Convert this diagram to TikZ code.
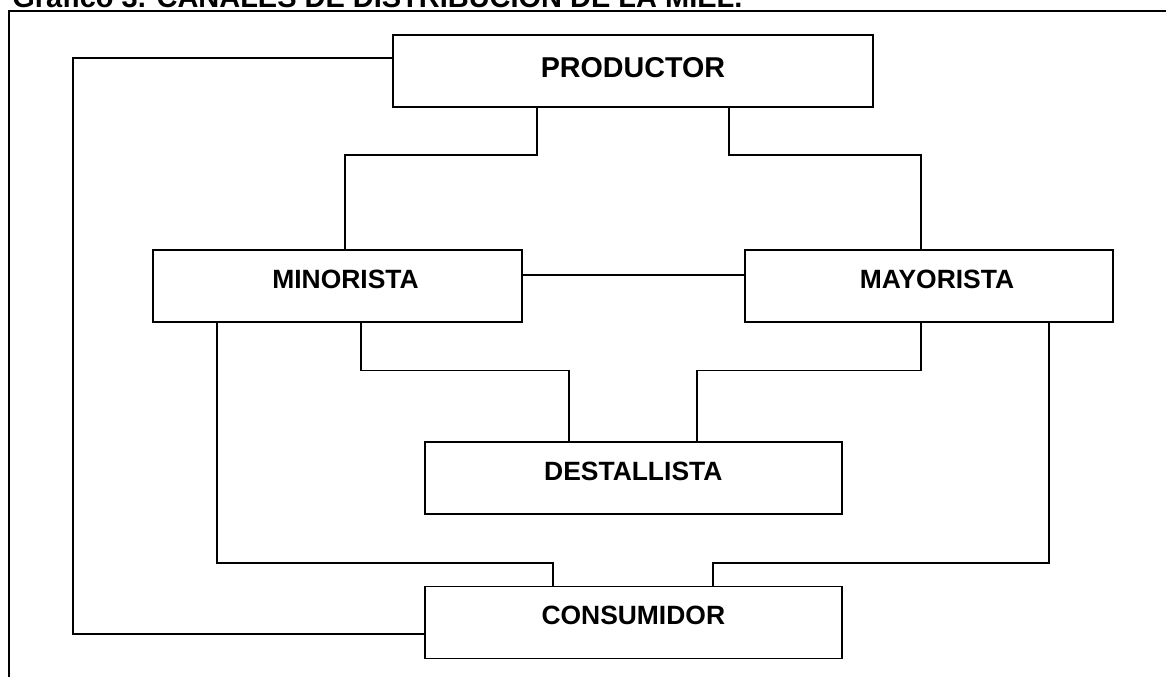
\documentclass[tikz,border=0pt]{standalone}
\usepackage{fontspec}
\setmainfont{Liberation Sans}
\tikzset{cbox/.style={draw, line width=1.3pt, inner sep=0pt, minimum width=#1,
    text height=0.95cm, text depth=0.85cm,
    font=\bfseries\fontsize{18.8}{22}\selectfont}}
\tikzset{cline/.style={line width=1.3pt}}

\begin{document}
\begin{tikzpicture}[x=0.025cm, y=-0.025cm]
    \useasboundingbox (0,0) rectangle (1166,677);
    \clip (0,0) rectangle (1166,677);
    \node[anchor=base west, inner sep=0pt, font=\bfseries\fontsize{20.6}{24}\selectfont] (title) at (12,7.3) {Grafico 3. CANALES DE DISTRIBUCION DE LA MIEL.};
    \draw[cline] (1200,11) -- (9,11) -- (9,700);
    \node[cbox=12cm, text height=1.07cm, text depth=0.73cm, font=\bfseries\fontsize{20.4}{24}\selectfont] (prod) at (633,70.7) {PRODUCTOR};
    \node[cbox=9.225cm] (mino) at (337.5,286.3) {\hspace*{0.4cm}MINORISTA};
    \node[cbox=9.2cm] (mayo) at (929,286.3) {\hspace*{0.4cm}MAYORISTA};
    \node[cbox=10.42cm] (dest) at (633.3,478.3) {DESTALLISTA};
    \node[cbox=10.42cm] (cons) at (633.3,622.5) {CONSUMIDOR};
    \draw[cline] (prod.south -| 537,0) -- (537,155) -| (mino.north -| 345,0);
    \draw[cline] (prod.south -| 729,0) -- (729,155) -| (mayo.north -| 921,0);
    \draw[cline] (prod.west |- 0,58) -| (73,634) -- (cons.west |- 0,634);
    \draw[cline] (mino.east |- 0,274.7) -- (mayo.west |- 0,274.7);
    \draw[cline] (mino.south -| 361,0) -- (361,370.5) -| (dest.north -| 569,0);
    \draw[cline] (mayo.south -| 921,0) -- (921,370.5) -| (dest.north -| 697,0);
    \draw[cline] (mino.south -| 217,0) -- (217,562.7) -| (cons.north -| 553,0);
    \draw[cline] (mayo.south -| 1049,0) -- (1049,562.7) -| (cons.north -| 713,0);
\end{tikzpicture}
\end{document}
